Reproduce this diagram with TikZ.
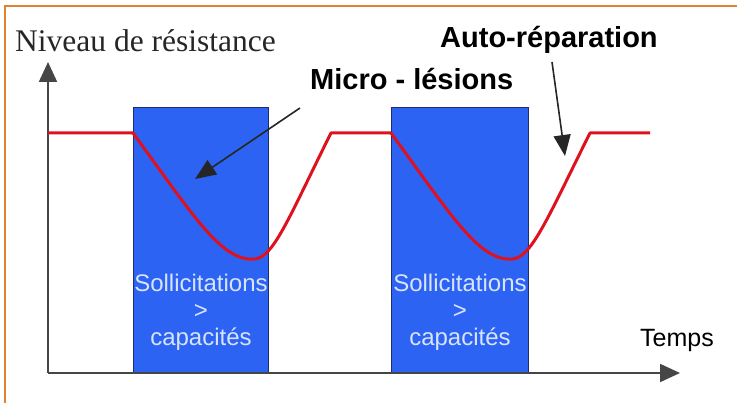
\documentclass[tikz,border=0pt]{standalone}
\usepackage{fontspec}
\setmainfont{Liberation Serif}
\setsansfont{Liberation Sans}
\usetikzlibrary{arrows.meta}
\definecolor{frameorange}{RGB}{224,130,50}
\definecolor{stressblue}{RGB}{45,99,242}
\definecolor{stressedge}{RGB}{30,45,110}
\definecolor{curvered}{RGB}{222,18,30}
\definecolor{axisgray}{RGB}{70,70,70}
\definecolor{boxtext}{RGB}{215,228,255}
\tikzset{
  axisline/.style={draw=axisgray, line width=2pt, -{Triangle[length=20pt,width=18pt]}},
  pointer/.style={draw=black!85, line width=1.6pt, -{Triangle[length=21pt,width=17pt]}},
  stressbox/.style={fill=stressblue, draw=stressedge, line width=1pt},
  stresslabel/.style={text=boxtext, font=\sffamily\fontsize{24}{27}\selectfont, align=center, inner sep=0pt},
  biglabel/.style={font=\sffamily\bfseries\fontsize{29}{32}\selectfont, inner sep=0pt, anchor=base west},
  curve/.style={draw=curvered, line width=3pt, line join=round}
}
\begin{document}
\begin{tikzpicture}[x=1pt, y=-1pt]
  \useasboundingbox (0,0) rectangle (737,403);
  % orange page frame (left and top edges)
  \draw[frameorange, line width=2.5pt] (5,403) -- (5,6) -- (737,6);

  % stress periods
  \draw[stressbox] (133,108) rectangle (268,373);
  \draw[stressbox] (391,108) rectangle (528,373);
  \node[stresslabel] (s1) at (201,312) {Sollicitations\\>\\capacités};
  \node[stresslabel] (s2) at (460,312) {Sollicitations\\>\\capacités};

  % axes
  \coordinate (origin) at (48,373);
  \coordinate (ytip) at (48,62);
  \coordinate (xtip) at (680,373);
  \draw[axisline] (origin) -- (ytip);
  \draw[axisline] (origin) -- (xtip);

  % resistance level over time
  \draw[curve] (48,133) -- (133,133)
    .. controls (195,218) and (222,262) .. (255,259)
    .. controls (274,257) and (290,215) .. (331,133)
    -- (391,133)
    .. controls (453,218) and (480,262) .. (513,259)
    .. controls (532,257) and (549,215) .. (590,133)
    -- (650,133);

  % labels
  \node[font=\rmfamily\fontsize{31.5}{34}\selectfont, text=black!85, inner sep=0pt, anchor=base west] (ylab) at (15,52) {Niveau de résistance};
  \node[biglabel] (micro) at (310,90) {Micro - lésions};
  \node[biglabel] (auto) at (440,48) {Auto-réparation};
  \node[font=\sffamily\fontsize{25}{28}\selectfont, inner sep=0pt, anchor=base west] (xlab) at (640,347) {Temps};

  % pointers from labels
  \coordinate (microstart) at (300,108);
  \coordinate (microend) at (195,179);
  \coordinate (autostart) at (552,62);
  \coordinate (autoend) at (565,156);
  \draw[pointer] (microstart) -- (microend);
  \draw[pointer] (autostart) -- (autoend);
\end{tikzpicture}
\end{document}
